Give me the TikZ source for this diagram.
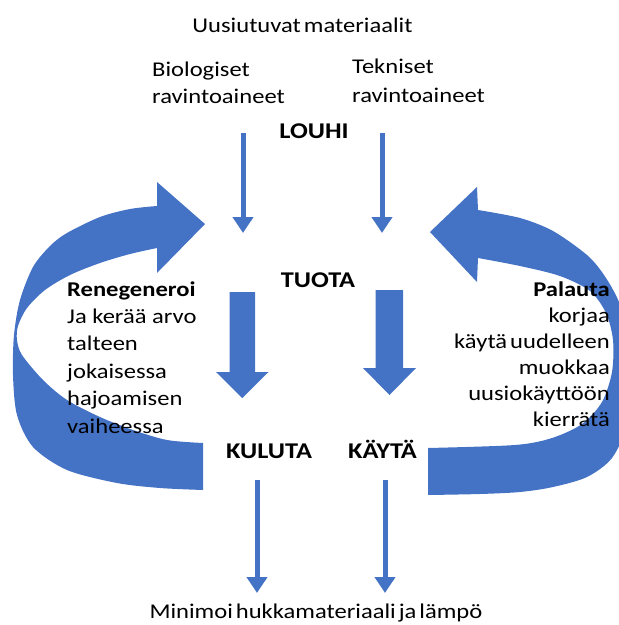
\documentclass[tikz,border=0pt]{standalone}
\usepackage{fontspec}
\setmainfont{Carlito}[FakeStretch=1.17]
\usetikzlibrary{arrows.meta}
\definecolor{oblue}{HTML}{4472C4}
\newcommand\narrowspacing{\spaceskip=3pt plus 1pt\relax}
\begin{document}
\begin{tikzpicture}[x=1pt,y=-1pt,
  txt/.style={inner sep=0pt, font=\fontsize{21}{26}\selectfont},
  key/.style={inner sep=0pt, font=\bfseries\fontsize{22.5}{27}\selectfont},
  flow/.style={draw=oblue, line width=5pt, -{Triangle[length=16pt,width=20pt]}},
  band/.style={fill=oblue}]
\useasboundingbox (0,0) rectangle (619,625);

% curved arrows
\fill[band] (203,490)
  -- plot[smooth] coordinates {(203,490) (160,488) (117,483) (67,470) (33,447) (17,415) (13,375) (14,335) (20,300) (33,267) (50,246) (67,233) (100,217) (130,209) (157,206)}
  -- (157,182) -- (205,224) -- (157,273) -- (157,248)
  -- plot[smooth] coordinates {(157,248) (130,254) (100,263) (70,275) (45,290) (27,308) (18,326) (17,340) (22,355) (43,380) (67,400) (100,417) (133,430) (167,440) (203,443)}
  -- cycle;
\fill[band] (428,495)
  -- plot[smooth] coordinates {(428,495) (480,494) (520,492) (553,487) (587,477) (612,458) (627,425) (633,380) (630,340) (619,302) (604,275) (587,255) (553,231) (520,218) (478,210)}
  -- (477,187) -- (430,232) -- (477,282) -- (478,258)
  -- plot[smooth] coordinates {(478,258) (520,266) (560,276) (590,291) (606,313) (613,340) (612,372) (602,402) (582,424) (552,438) (515,445) (428,448)}
  -- cycle;

% block arrows
\fill[band] (229.5,292) -- (255,292) -- (255,372) -- (268.5,372) -- (242.25,398) -- (216,372) -- (229.5,372) -- cycle;
\fill[band] (375.5,290) -- (403,290) -- (403,368) -- (416,368) -- (389.5,395) -- (363,368) -- (375.5,368) -- cycle;

% texts
\node[txt, anchor=base] (src) at (302.5,32) {\narrowspacing Uusiutuvat materiaalit};
\node[txt, anchor=base west, font=\fontsize{21}{27}\selectfont] (bio) at (152,76)
  {\begin{tabular}[t]{@{}l@{}}Biologiset\\ravintoaineet\end{tabular}};
\node[txt, anchor=base west, font=\fontsize{21}{29}\selectfont] (tek) at (352,73)
  {\begin{tabular}[t]{@{}l@{}}Tekniset\\ravintoaineet\end{tabular}};
\node[key, anchor=base] (louhi) at (314,138) {LOUHI};
\node[key, anchor=base] (tuota) at (318,287) {TUOTA};
\node[key, anchor=base] (kuluta) at (269,458) {KULUTA};
\node[key, anchor=base] (kayta) at (382.5,458) {KÄYTÄ};
\node[txt, anchor=base] (waste) at (316,618) {\narrowspacing Minimoi hukkamateriaali ja lämpö};
\node[txt, anchor=base west, font=\fontsize{21}{27.4}\selectfont] (regen) at (67,296)
  {\begin{tabular}[t]{@{}l@{}}\textbf{Renegeneroi}\\Ja kerää arvo\\talteen\\jokaisessa\\hajoamisen\\vaiheessa\end{tabular}};
\node[txt, anchor=base east] (pal) at (610,296)
  {\begin{tabular}[t]{@{}r@{}}\textbf{Palauta}\\korjaa\\käytä\hspace{3pt}uudelleen\\muokkaa\\uusiokäyttöön\\kierrätä\end{tabular}};

% thin arrows
\coordinate (t1s) at (243,133); \coordinate (t1e) at (243,233);
\coordinate (t2s) at (382,133); \coordinate (t2e) at (382,233);
\coordinate (b1s) at (257,480); \coordinate (b1e) at (257,593);
\coordinate (b2s) at (385,480); \coordinate (b2e) at (385,593);
\draw[flow] (t1s) -- (t1e);
\draw[flow] (t2s) -- (t2e);
\draw[flow] (b1s) -- (b1e);
\draw[flow] (b2s) -- (b2e);
\end{tikzpicture}
\end{document}
